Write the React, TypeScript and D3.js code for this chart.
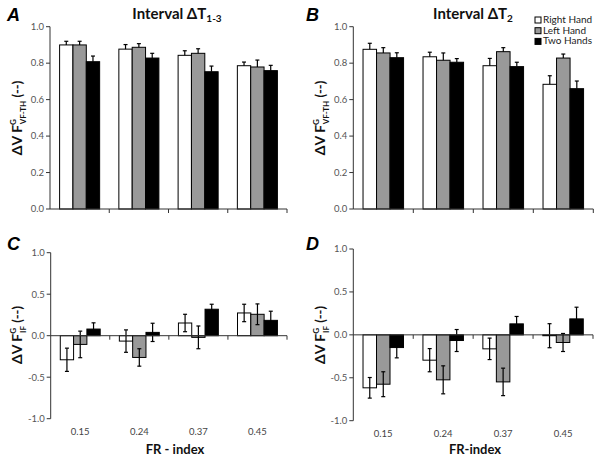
import React from 'react'
import { scaleBand, scaleLinear } from 'd3'

const categories = ['0.15', '0.24', '0.37', '0.45']
const series = ['Right Hand', 'Left Hand', 'Two Hands']
const fills = ['#ffffff', '#999999', '#000000']

// panel A: interval ΔT1-3, ΔV F^G VF-TH
const aVals = [
  [0.90, 0.877, 0.843, 0.786],
  [0.90, 0.887, 0.854, 0.779],
  [0.808, 0.828, 0.753, 0.759],
]
const aErr = [
  [0.02, 0.025, 0.025, 0.02],
  [0.02, 0.02, 0.025, 0.038],
  [0.031, 0.026, 0.031, 0.029],
]
// panel B: interval ΔT2
const bVals = [
  [0.876, 0.835, 0.786, 0.684],
  [0.856, 0.816, 0.863, 0.828],
  [0.830, 0.805, 0.781, 0.660],
]
const bErr = [
  [0.033, 0.025, 0.04, 0.047],
  [0.029, 0.04, 0.022, 0.022],
  [0.027, 0.02, 0.024, 0.042],
]
// panel C: ΔV F^G IF, interval ΔT1-3
const cVals = [
  [-0.29, -0.065, 0.153, 0.274],
  [-0.105, -0.262, -0.02, 0.258],
  [0.08, 0.04, 0.319, 0.185],
]
const cErr = [
  [0.14, 0.135, 0.105, 0.105],
  [0.16, 0.105, 0.137, 0.125],
  [0.075, 0.11, 0.06, 0.11],
]
// panel D: ΔV F^G IF, interval ΔT2
const dVals = [
  [-0.617, -0.295, -0.163, -0.01],
  [-0.575, -0.524, -0.548, -0.089],
  [-0.148, -0.066, 0.128, 0.186],
]
const dErr = [
  [0.12, 0.135, 0.125, 0.14],
  [0.145, 0.163, 0.16, 0.105],
  [0.12, 0.128, 0.086, 0.136],
]

const topTicks = [0, 0.2, 0.4, 0.6, 0.8, 1.0]
const bottomTicks = [-1, -0.5, 0, 0.5, 1]

const labelFont = 'Lato, "Open Sans", sans-serif'
const letterFont = '"Liberation Sans", Arial, sans-serif'

type PanelProps = {
  x0: number
  x1: number
  yTop: number
  yBottom: number
  domain: [number, number]
  ticks: number[]
  values: number[][]
  errors: number[][]
  twoSided: boolean
  showCats: boolean
}

const Panel = ({ x0, x1, yTop, yBottom, domain, ticks, values, errors, twoSided, showCats }: PanelProps) => {
  const x = scaleBand<string>().domain(categories).range([x0, x1])
  const xs = scaleBand<string>().domain(series).range([0, x.bandwidth()]).paddingOuter(0.72)
  const y = scaleLinear().domain(domain).range([yBottom, yTop])
  const zero = y(0)
  const fmt = (v: number) => v.toFixed(1)
  return (
    <g>
      {/* bars */}
      {series.map((s, si) =>
        categories.map((c, ci) => {
          const v = values[si][ci]
          const bx = (x(c) as number) + (xs(s) as number)
          const top = Math.min(y(v), zero)
          const h = Math.abs(y(v) - zero)
          return (
            <rect key={s + c} x={bx} y={top} width={xs.bandwidth()} height={h}
              fill={fills[si]} stroke="#000" strokeWidth={1} />
          )
        })
      )}
      {/* error bars: one-sided on top panels, both ways below */}
      {series.map((s, si) =>
        categories.map((c, ci) => {
          const v = values[si][ci]
          const e = errors[si][ci]
          const cx = (x(c) as number) + (xs(s) as number) + xs.bandwidth() / 2
          const hi = v + e
          const lo = twoSided ? v - e : v
          return (
            <g key={'e' + s + c} stroke="#000" strokeWidth={1.2}>
              <line x1={cx} x2={cx} y1={y(hi)} y2={y(lo)} />
              <line x1={cx - 2} x2={cx + 2} y1={y(hi)} y2={y(hi)} />
              {twoSided && <line x1={cx - 2} x2={cx + 2} y1={y(lo)} y2={y(lo)} />}
            </g>
          )
        })
      )}
      {/* y axis */}
      <line x1={x0} x2={x0} y1={yTop} y2={yBottom} stroke="#333" strokeWidth={1} />
      {ticks.map(t => (
        <g key={t}>
          <line x1={x0 - 4} x2={x0} y1={y(t)} y2={y(t)} stroke="#333" />
          <text x={x0 - 6} y={y(t)} dy="0.35em" textAnchor="end" fontSize={9.5}
            fill="#555" fontFamily={labelFont}>{fmt(t)}</text>
        </g>
      ))}
      {/* x axis at zero */}
      <line x1={x0} x2={x1} y1={zero} y2={zero} stroke="#333" strokeWidth={1} />
      {categories.map(c => (
        <line key={c} x1={(x(c) as number) + x.bandwidth()} x2={(x(c) as number) + x.bandwidth()}
          y1={zero} y2={zero + 4} stroke="#333" />
      ))}
      {showCats && categories.map(c => (
        <text key={'l' + c} x={(x(c) as number) + x.bandwidth() / 2} y={yBottom + 16}
          textAnchor="middle" fontSize={9.5} fill="#444" fontFamily={labelFont}>{c}</text>
      ))}
    </g>
  )
}

const YLabel = ({ cx, cy, sub }: { cx: number; cy: number; sub: string }) => (
  <text transform={`translate(${cx},${cy}) rotate(-90)`} textAnchor="middle"
    fontFamily={labelFont} fontWeight="bold" fontSize={14} fill="#111">
    ΔV F
    <tspan fontSize={8} dy={-6}>G</tspan>
    <tspan fontSize={8} dy={10} dx={-5}>{sub}</tspan>
    <tspan fontSize={13} dy={-4}> (--)</tspan>
  </text>
)

const Title = ({ cx, sub }: { cx: number; sub: string }) => (
  <text x={cx} y={19} textAnchor="middle" fontFamily={labelFont} fontWeight="bold"
    fontSize={15} fill="#111">
    Interval ΔT<tspan fontSize={10} dy={3}>{sub}</tspan>
  </text>
)

const Letter = ({ x, y, t }: { x: number; y: number; t: string }) => (
  <text x={x} y={y} fontFamily={letterFont} fontWeight="bold" fontStyle="italic"
    fontSize={18} fill="#000">{t}</text>
)

const App = () => {
  return (
    <svg width={602} height={459} style={{ position: 'absolute', left: 0, top: 0, background: '#fff' }}>
      <rect width={602} height={459} fill="#fff" />
      <Letter x={7} y={21} t="A" />
      <Letter x={306} y={21} t="B" />
      <Letter x={7} y={250} t="C" />
      <Letter x={306} y={250} t="D" />
      <Title cx={177} sub="1-3" />
      <Title cx={473} sub="2" />

      <Panel x0={50} x1={287} yTop={26.7} yBottom={209} domain={[0, 1]} ticks={topTicks}
        values={aVals} errors={aErr} twoSided={false} showCats={false} />
      <Panel x0={353.3} x1={593.3} yTop={26.7} yBottom={209} domain={[0, 1]} ticks={topTicks}
        values={bVals} errors={bErr} twoSided={false} showCats={false} />
      <Panel x0={50.7} x1={287} yTop={252.7} yBottom={418.7} domain={[-1, 1]} ticks={bottomTicks}
        values={cVals} errors={cErr} twoSided={true} showCats={true} />
      <Panel x0={353.3} x1={593} yTop={249} yBottom={420.7} domain={[-1, 1]} ticks={bottomTicks}
        values={dVals} errors={dErr} twoSided={true} showCats={true} />

      <YLabel cx={22} cy={118} sub="VF-TH" />
      <YLabel cx={325} cy={118} sub="VF-TH" />
      <YLabel cx={22} cy={335} sub="IF" />
      <YLabel cx={325} cy={335} sub="IF" />

      <text x={175} y={454} textAnchor="middle" fontFamily={labelFont} fontWeight="bold"
        fontSize={13} fill="#111">FR - index</text>
      <text x={475} y={454} textAnchor="middle" fontFamily={labelFont} fontWeight="bold"
        fontSize={13} fill="#111">FR-index</text>

      {/* legend */}
      {series.map((s, i) => (
        <g key={s}>
          <rect x={535} y={17 + i * 10.7} width={6} height={6} fill={fills[i]} stroke="#000" />
          <text x={543} y={23 + i * 10.7} fontFamily={labelFont} fontSize={10} fill="#222">{s}</text>
        </g>
      ))}
    </svg>
  )
}

export default App
